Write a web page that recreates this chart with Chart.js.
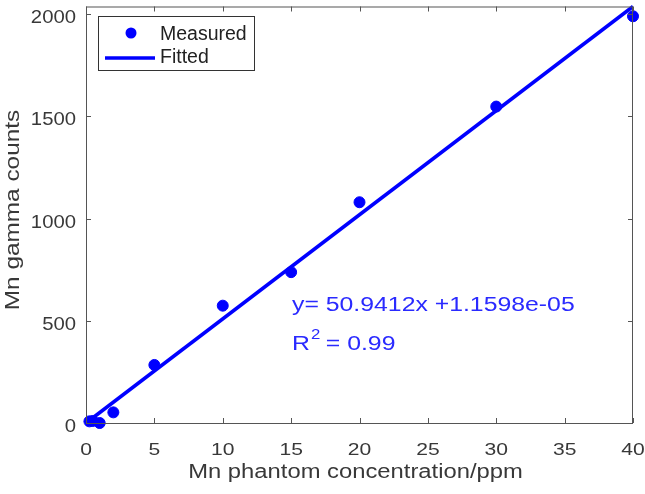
<!DOCTYPE html>
<html>
<head>
<meta charset="utf-8">
<script src="https://cdn.jsdelivr.net/npm/chart.js@4/dist/chart.umd.min.js"></script>
<style>
  html, body { margin: 0; padding: 0; background: #fff; }
  #wrap { width: 645px; height: 494px; }
</style>
</head>
<body>
<div id="wrap"><canvas id="grafico"></canvas></div>
<script>
// valores
const concentracion = [0.25, 0.5, 1, 2, 5, 10, 15, 20, 30, 40];
const cuentas = [8, 10, 0, 52, 284, 574, 738, 1080, 1548, 1990];
const pendiente = 50.9412;
const ajusteX = [0, 40];
const ticksX = [0, 5, 10, 15, 20, 25, 30, 35, 40];
const ticksY = [0, 500, 1000, 1500, 2000];

const azul = "#0000ff";
const gris = "#555555";
const colorTexto = "#383838";
const fuente = "'Liberation Sans', Arial, sans-serif";

// recta ajustada y = m x
const ajuste = ajusteX.map(x => ({x: x, y: pendiente * x}));
const medidos = concentracion.map((x, i) => ({x: x, y: cuentas[i]}));

// texto algo ensanchado como en la figura original
function texto(ctx, s, x, y, size, ancho, align){
    ctx.save();
    ctx.font = size + "px " + fuente;
    const w = ctx.measureText(s).width * ancho;
    let x0 = x;
    if (align === "center") x0 = x - w / 2;
    if (align === "right") x0 = x - w;
    ctx.translate(x0, y);
    ctx.scale(ancho, 1);
    ctx.textAlign = "left";
    ctx.textBaseline = "alphabetic";
    ctx.fillText(s, 0, 0);
    ctx.restore();
    return w;
}

const extras = {
    id: "extras",
    afterDraw(chart){
        const ctx = chart.ctx;
        const a = chart.chartArea;
        const sx = chart.scales.x, sy = chart.scales.y;
        ctx.save();

        // caja y marcas hacia dentro
        ctx.strokeStyle = gris;
        ctx.lineWidth = 1;
        ctx.strokeRect(a.left + 0.5, a.top + 0.5, a.right - a.left - 1, a.bottom - a.top);
        sx.ticks.forEach(t => {
            const px = Math.round(sx.getPixelForValue(t.value)) + 0.5;
            ctx.beginPath();
            ctx.moveTo(px, a.bottom); ctx.lineTo(px, a.bottom - 5);
            ctx.moveTo(px, a.top); ctx.lineTo(px, a.top + 5);
            ctx.stroke();
        });
        sy.ticks.forEach(t => {
            const py = Math.round(sy.getPixelForValue(t.value)) + 0.5;
            ctx.beginPath();
            ctx.moveTo(a.left, py); ctx.lineTo(a.left + 5, py);
            ctx.moveTo(a.right, py); ctx.lineTo(a.right - 5, py);
            ctx.stroke();
        });

        // etiquetas de los ejes
        ctx.fillStyle = colorTexto;
        sx.ticks.forEach(t => {
            texto(ctx, String(t.value), sx.getPixelForValue(t.value), a.bottom + 32, 17, 1.24, "center");
        });
        sy.ticks.forEach(t => {
            texto(ctx, String(t.value), a.left - 10, sy.getPixelForValue(t.value) + 9, 17.5, 1.16, "right");
        });
        texto(ctx, "Mn phantom concentration/ppm", (a.left + a.right) / 2 - 4, 478, 19.5, 1.22, "center");
        ctx.save();
        ctx.translate(19, 210);
        ctx.rotate(-Math.PI / 2);
        texto(ctx, "Mn gamma counts", 0, 0, 19.5, 1.25, "center");
        ctx.restore();

        // leyenda
        ctx.fillStyle = "#fff";
        ctx.fillRect(98, 16, 156, 54);
        ctx.strokeStyle = "#333";
        ctx.strokeRect(98.5, 16.5, 156, 54);
        ctx.fillStyle = azul;
        ctx.beginPath();
        ctx.arc(131, 33, 5.5, 0, Math.PI * 2);
        ctx.fill();
        ctx.strokeStyle = azul;
        ctx.lineWidth = 3.5;
        ctx.beginPath();
        ctx.moveTo(105, 58); ctx.lineTo(155, 58);
        ctx.stroke();
        ctx.fillStyle = "#222";
        texto(ctx, "Measured", 160, 40, 19.5, 1, "left");
        texto(ctx, "Fitted", 160, 63, 19.5, 1, "left");

        // ecuacion del ajuste
        ctx.fillStyle = "#2a2aff";
        texto(ctx, "y= 50.9412x +1.1598e-05", 292, 311, 20, 1.24, "left");
        let xr = 292;
        xr += texto(ctx, "R", xr, 350, 20, 1.24, "left") + 1;
        texto(ctx, "2", xr, 339, 14, 1.2, "left");
        texto(ctx, " = 0.99", xr + 8, 350, 20, 1.24, "left");
        ctx.restore();
    }
};

new Chart(document.getElementById("grafico"), {
    type: "scatter",
    data: {
        datasets: [
            {
                label: "Fitted",
                type: "line",
                data: ajuste,
                borderColor: azul,
                borderWidth: 3.5,
                pointRadius: 0,
                fill: false
            },
            {
                label: "Measured",
                data: medidos,
                backgroundColor: azul,
                borderColor: azul,
                pointRadius: 5.5,
                pointHoverRadius: 5.5
            }
        ]
    },
    options: {
        responsive: true,
        maintainAspectRatio: false,
        animation: false,
        events: [],
        clip: false,
        layout: { padding: { top: 4, right: 12, left: 0, bottom: 0 } },
        plugins: {
            legend: { display: false },
            tooltip: { enabled: false }
        },
        scales: {
            x: {
                type: "linear",
                min: 0,
                max: 40,
                afterFit: s => { s.height = 71; s.paddingLeft = 0; s.paddingRight = 0; },
                afterBuildTicks: s => { s.ticks = ticksX.map(v => ({value: v})); },
                grid: { display: false, drawTicks: false },
                border: { display: false },
                ticks: { display: false }
            },
            y: {
                type: "linear",
                min: 0,
                max: pendiente * 40,
                afterFit: s => { s.width = 86; s.paddingTop = 0; s.paddingBottom = 0; },
                afterBuildTicks: s => { s.ticks = ticksY.map(v => ({value: v})); },
                grid: { display: false, drawTicks: false },
                border: { display: false },
                ticks: { display: false }
            }
        }
    },
    plugins: [extras]
});
</script>
</body>
</html>
